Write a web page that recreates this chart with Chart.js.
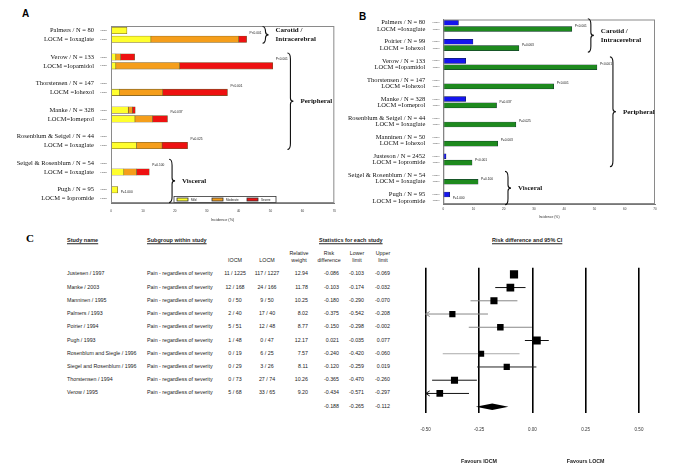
<!DOCTYPE html>
<html>
<head>
<meta charset="utf-8">
<script src="https://cdn.jsdelivr.net/npm/chart.js@4.4.1/dist/chart.umd.min.js"></script>
<style>
  body { margin: 0; background: #fff; width: 685px; height: 476px; position: relative; overflow: hidden; font-family: "Liberation Sans", sans-serif; }
  canvas { position: absolute; }
  .t { position: absolute; white-space: nowrap; font-size: 5.3px; line-height: 1; color: #222; }
  .h { font-weight: bold; text-decoration: underline; font-size: 5.5px; }
  .panel { position: absolute; font-weight: bold; font-size: 10px; line-height: 1; }
</style>
</head>
<body>
<div class="panel" style="left:22px;top:8.5px">A</div>
<div class="panel" style="left:359px;top:12px">B</div>
<div class="panel" style="left:26px;top:233px;font-family:'Liberation Serif';font-size:11px">C</div>
<canvas id="chartA" width="342" height="228" style="left:0;top:0"></canvas>
<canvas id="chartB" width="343" height="228" style="left:342px;top:0"></canvas>
<canvas id="chartC" width="285" height="216" style="left:400px;top:260px"></canvas>
<script>
// ---- Panel A: pain severity (% of patients), each pair = [HOCM, LOCM]
const studiesA = ["Palmers / N = 80", "Verow / N = 133", "Thorstensen / N = 147", "Manke / N = 328",
  "Rosenblum & Seigel / N = 44", "Seigel & Rosenblum / N = 54", "Pugh / N = 95"];
const agentsA = ["LOCM = Ioxaglate", "LOCM =Iopamidol", "LOCM =Iohexol", "LOCM=Iomeprol",
  "LOCM = Ioxaglate", "LOCM = Ioxaglate", "LOCM = Iopromide"];
const mildA = [[5, 12.5], [1.5, 1.5], [0, 2.7], [5.4, 7.5], [0, 8], [0, 4], [2.1, 0]];
const moderateA = [[0, 27.5], [1.5, 20], [0, 13.5], [1.3, 5.5], [0, 8], [0, 4], [0, 0]];
const severeA = [[0, 2.5], [4.4, 29.2], [0, 20.3], [0.9, 4.7], [0, 8], [0, 4], [0, 0]];
const pValuesA = ["P<0.001", "P<0.001", "P<0.001", "P=0.037", "P=0.025", "P=0.100", "P=1.000"];

// ---- Panel B: any pain (% of patients)
const studiesB = ["Palmers / N = 80", "Poirier / N = 99", "Verow / N = 133", "Thorstensen / N = 147",
  "Manke / N = 328", "Rosenblum & Seigel / N = 44", "Manninen / N = 50", "Justeson / N = 2452",
  "Seigel & Rosenblum / N = 54", "Pugh / N = 95"];
const agentsB = ["LOCM =Ioxaglate", "LOCM = Iohexol", "LOCM =Iopamidol", "LOCM =Iohexol", "LOCM =Iomeprol",
  "LOCM = Ioxaglate", "LOCM = Iohexol", "LOCM = Iopromide", "LOCM = Ioxaglate", "LOCM = Iopromide"];
const hocmB = [5, 9.8, 7.4, 0, 7.4, 0, 0, 0.9, 0, 2.1];
const locmB = [42.5, 25, 50.8, 36.5, 17.6, 24, 18, 9.5, 11.5, 0];
const pValuesB = ["P<0.001", "P=0.063", "P<0.001", "P<0.001", "P=0.037", "P=0.025", "P=0.003",
  "P<0.001", "P=0.100", "P=1.000"];

// ---- Panel C: meta-analysis table + forest plot
const studyC = ["Justesen / 1997", "Manke / 2003", "Manninen / 1995", "Palmers / 1993", "Poirier / 1994",
  "Pugh / 1993", "Rosenblum and Siegle / 1996", "Siegel and Rosenblum / 1996", "Thorstensen / 1994", "Verow / 1995"];
const iocmEvents = ["11 / 1225", "12 / 168", "0 / 50", "2 / 40", "5 / 51", "1 / 48", "0 / 19", "0 / 29", "0 / 73", "5 / 68"];
const locmEvents = ["117 / 1227", "24 / 166", "9 / 50", "17 / 40", "12 / 48", "0 / 47", "6 / 25", "3 / 26", "27 / 74", "33 / 65"];
const weights = [12.94, 11.78, 10.25, 8.02, 8.77, 12.17, 7.57, 8.11, 10.26, 9.20];
const riskDiff = [-0.086, -0.103, -0.180, -0.375, -0.150, 0.021, -0.240, -0.120, -0.365, -0.434];
const lowerLimit = [-0.103, -0.174, -0.290, -0.542, -0.298, -0.035, -0.420, -0.259, -0.470, -0.571];
const upperLimit = [-0.069, -0.032, -0.070, -0.208, -0.002, 0.077, -0.060, 0.019, -0.260, -0.297];
const summary = [-0.188, -0.265, -0.112]; // estimate, lower, upper
const whiskerColors = ["#111", "#111", "#888", "#888", "#888", "#111", "#aaa", "#222", "#111", "#111"];

// rows: HOCM, LOCM, blank spacer between studies
function rowLabels(n) {
  const out = [];
  for (let i = 0; i < n; i++) { if (i) out.push(""); out.push("HOCM", "LOCM"); }
  return out;
}
function seriesRows(pairs) {
  const out = [];
  pairs.forEach((p, i) => { if (i) out.push(null); out.push(p[0] || null, p[1] || null); });
  return out;
}

function drawBrace(ctx, x, y1, y2, w) {
  const ym = (y1 + y2) / 2, h = w / 2;
  ctx.beginPath();
  ctx.moveTo(x, y1);
  ctx.quadraticCurveTo(x + h, y1, x + h, y1 + w);
  ctx.lineTo(x + h, ym - h);
  ctx.quadraticCurveTo(x + h, ym, x + w, ym);
  ctx.quadraticCurveTo(x + h, ym, x + h, ym + h);
  ctx.lineTo(x + h, y2 - w);
  ctx.quadraticCurveTo(x + h, y2, x, y2);
  ctx.stroke();
}

function decorPlugin(cfg) {
  return {
    id: "decor",
    afterDraw(chart) {
      const { ctx, chartArea: a, scales: { x, y } } = chart;
      ctx.save();
      ctx.strokeStyle = "#8a8a8a";
      ctx.lineWidth = 1;
      ctx.strokeRect(a.left + 0.5, a.top + 0.5, a.right - a.left - 1, a.bottom - a.top - 1);

      // study names
      ctx.fillStyle = "#111";
      ctx.font = '6.5px "Liberation Serif"';
      ctx.textAlign = "right";
      ctx.textBaseline = "middle";
      cfg.studies.forEach((s, i) => {
        ctx.fillText(s, a.left - cfg.nameGap, y.getPixelForValue(i * 3));
        ctx.fillText(cfg.agents[i], a.left - cfg.nameGap, y.getPixelForValue(i * 3 + 1));
      });

      // p values
      ctx.font = '3.2px "Liberation Sans"';
      ctx.textAlign = "left";
      cfg.pValues.forEach((p, i) => {
        const end = Math.max(cfg.totals[i][0], cfg.totals[i][1]);
        ctx.fillText(p, x.getPixelForValue(end) + 3, y.getPixelForValue(i * 3 + 1) - cfg.pLift);
      });

      // group braces
      ctx.strokeStyle = "#111";
      ctx.lineWidth = 1.1;
      cfg.groups.forEach(g => {
        const bx = x.getPixelForValue(g.at);
        const y1 = y.getPixelForValue(g.from * 3) - 4;
        const y2 = y.getPixelForValue(g.to * 3 + 1) + 4;
        drawBrace(ctx, bx, y1, y2, 6);
        ctx.font = 'bold 7px "Liberation Serif"';
        const ym = (y1 + y2) / 2 - (g.label.length - 1) * 4.5;
        g.label.forEach((t, k) => ctx.fillText(t, bx + 13, ym + k * 9));
      });

      // legend box (panel A)
      if (cfg.legend) {
        const lx = a.left + 63, ly = a.bottom - 6.5, lw = 102, lh = 6;
        ctx.fillStyle = "#fff";
        ctx.fillRect(lx, ly, lw, lh);
        ctx.strokeStyle = "#333";
        ctx.lineWidth = 0.8;
        ctx.strokeRect(lx, ly, lw, lh);
        ctx.font = '3px "Liberation Sans"';
        chart.data.datasets.forEach((ds, k) => {
          const sx = lx + 3 + k * 35;
          ctx.fillStyle = ds.backgroundColor;
          ctx.fillRect(sx, ly + 1.5, 11, 3);
          ctx.strokeRect(sx, ly + 1.5, 11, 3);
          ctx.fillStyle = "#222";
          ctx.fillText(ds.label, sx + 14, ly + 3.2);
        });
      }
      ctx.restore();
    }
  };
}

function axisOptions(cfg) {
  return {
    y: {
      stacked: true,
      afterFit: s => { s.width = cfg.yWidth; },
      grid: { display: false, drawTicks: false },
      border: { color: "#777" },
      ticks: { autoSkip: false, font: { size: 2.3 }, color: "#444", padding: 4 }
    },
    x: {
      stacked: true, min: 0, max: 70,
      afterFit: s => { s.height = cfg.xHeight; },
      grid: { display: false, drawTicks: false },
      border: { color: "#777" },
      ticks: { stepSize: 10, font: { size: 3 }, color: "#333", padding: cfg.tickPad },
      title: { display: true, text: "Incidence (%)", font: { size: cfg.titleSize }, color: "#333", padding: 0 }
    }
  };
}

// ---- Chart A
new Chart(document.getElementById("chartA"), {
  type: "bar",
  data: {
    labels: rowLabels(studiesA.length),
    datasets: [
      { label: "Mild", data: seriesRows(mildA), backgroundColor: "#ffff2e" },
      { label: "Moderate", data: seriesRows(moderateA), backgroundColor: "#f59e1b" },
      { label: "Severe", data: seriesRows(severeA), backgroundColor: "#ee1111" }
    ]
  },
  options: {
    indexAxis: "y", responsive: false, animation: false, devicePixelRatio: 1,
    datasets: { bar: { barThickness: 6.5, borderWidth: 0.6, borderColor: "#6b5a2a", borderSkipped: false } },
    layout: { padding: { top: 26, right: 5, bottom: 6, left: 0 } },
    plugins: { legend: { display: false }, tooltip: { enabled: false } },
    scales: axisOptions({ yWidth: 111, xHeight: 19, tickPad: 6, titleSize: 3.8 })
  },
  plugins: [decorPlugin({
    studies: studiesA, agents: agentsA, pValues: pValuesA, nameGap: 17, pLift: 6.5, legend: true,
    totals: mildA.map((m, i) => [0, 1].map(k => m[k] + moderateA[i][k] + severeA[i][k])),
    groups: [
      { label: ["Carotid /", "Intracerebral"], from: 0, to: 0, at: 47.5 },
      { label: ["Peripheral"], from: 1, to: 4, at: 55.3 },
      { label: ["Visceral"], from: 5, to: 6, at: 18.2 }
    ]
  })]
});

// ---- Chart B
new Chart(document.getElementById("chartB"), {
  type: "bar",
  data: {
    labels: rowLabels(studiesB.length),
    datasets: [
      { label: "HOCM", data: seriesRows(hocmB.map(v => [v, 0])), backgroundColor: "#1515ee" },
      { label: "LOCM", data: seriesRows(locmB.map(v => [0, v])), backgroundColor: "#1e8a1e" }
    ]
  },
  options: {
    indexAxis: "y", responsive: false, animation: false, devicePixelRatio: 1,
    datasets: { bar: { barThickness: 5, borderWidth: 0.5, borderColor: "#123", borderSkipped: false } },
    layout: { padding: { top: 19.5, right: 30, bottom: 9, left: 0 } },
    plugins: { legend: { display: false }, tooltip: { enabled: false } },
    scales: axisOptions({ yWidth: 101.3, xHeight: 15, tickPad: 3, titleSize: 3.4 })
  },
  plugins: [decorPlugin({
    studies: studiesB, agents: agentsB, pValues: pValuesB, nameGap: 18, pLift: 3,
    totals: hocmB.map((h, i) => [h, locmB[i]]),
    groups: [
      { label: ["Carotid /", "Intracerebral"], from: 0, to: 1, at: 47.8 },
      { label: ["Peripheral"], from: 2, to: 7, at: 55.1 },
      { label: ["Visceral"], from: 8, to: 9, at: 20.4 }
    ]
  })]
});

// ---- Chart C (forest plot)
const forestPlugin = {
  id: "forest",
  beforeDatasetsDraw(chart) {
    const { ctx, chartArea: a, scales: { x, y } } = chart;
    ctx.save();
    lowerLimit.forEach((lo, i) => {
      const yy = y.getPixelForValue(i);
      const clipped = lo < x.min;
      const x0 = x.getPixelForValue(Math.max(lo, x.min));
      const x1 = x.getPixelForValue(upperLimit[i]);
      ctx.strokeStyle = whiskerColors[i];
      ctx.lineWidth = 1;
      ctx.beginPath();
      ctx.moveTo(x0, yy);
      ctx.lineTo(x1, yy);
      if (clipped) {
        ctx.moveTo(x0 + 4, yy - 2.5);
        ctx.lineTo(x0, yy);
        ctx.lineTo(x0 + 4, yy + 2.5);
      }
      ctx.stroke();
    });
    const ys = y.getPixelForValue(riskDiff.length);
    ctx.fillStyle = "#000";
    ctx.beginPath();
    ctx.moveTo(x.getPixelForValue(summary[1]), ys);
    ctx.lineTo(x.getPixelForValue(summary[0]), ys - 3.2);
    ctx.lineTo(x.getPixelForValue(summary[2]), ys);
    ctx.lineTo(x.getPixelForValue(summary[0]), ys + 3.2);
    ctx.closePath();
    ctx.fill();
    ctx.font = 'bold 5.3px "Liberation Sans"';
    ctx.textAlign = "center";
    ctx.textBaseline = "middle";
    ctx.fillStyle = "#222";
    ctx.fillText("Favours IOCM", x.getPixelForValue(-0.25), a.bottom + 48.7);
    ctx.fillText("Favours LOCM", x.getPixelForValue(0.25), a.bottom + 48.7);
    ctx.restore();
  }
};

const forest = new Chart(document.getElementById("chartC"), {
  type: "scatter",
  data: {
    datasets: [{
      data: riskDiff.map((v, i) => ({ x: v, y: i })),
      pointStyle: "rect",
      pointRadius: weights.map(w => (3 + w * 0.4) / Math.SQRT2),
      backgroundColor: "#000",
      borderWidth: 0
    }]
  },
  options: {
    responsive: false, animation: false, devicePixelRatio: 1,
    layout: { padding: { left: 25.7, right: 46, top: 7.7, bottom: 32.7 } },
    plugins: { legend: { display: false }, tooltip: { enabled: false } },
    scales: {
      x: {
        min: -0.5, max: 0.5,
        afterFit: s => { s.height = 30; },
        ticks: { stepSize: 0.25, callback: v => v.toFixed(2), font: { size: 4.5 }, color: "#333", padding: 14 },
        grid: { color: "#000", lineWidth: 1.6, drawTicks: false },
        border: { display: false }
      },
      y: { display: false, min: -0.5, max: 10.5, reverse: true }
    }
  },
  plugins: [forestPlugin]
});

// ---- table text for panel C
function put(text, x, y, align, cls) {
  const d = document.createElement("div");
  d.className = "t" + (cls ? " " + cls : "");
  d.textContent = text;
  const tx = align === "right" ? "-100%" : align === "center" ? "-50%" : "0";
  d.style.left = x + "px";
  d.style.top = y + "px";
  d.style.transform = `translate(${tx},-50%)`;
  document.body.appendChild(d);
}

put("Study name", 67, 241, "left", "h");
put("Subgroup within study", 147, 241, "left", "h");
put("Statistics for each study", 319, 241, "left", "h");
put("Risk difference and 95% CI", 492, 241, "left", "h");
put("IOCM", 235, 261, "center");
put("LOCM", 267, 261, "center");
[["Relative", "weight", 299], ["Risk", "difference", 329], ["Lower", "limit", 357], ["Upper", "limit", 383]]
  .forEach(([a, b, x]) => { put(a, x, 254, "center"); put(b, x, 261, "center"); });

const fy = forest.scales.y;
studyC.forEach((s, i) => {
  const y = 260 + fy.getPixelForValue(i);
  put(s, 67, y, "left");
  put("Pain - regardless of severity", 147, y, "left");
  put(iocmEvents[i], 235, y, "center");
  put(locmEvents[i], 267, y, "center");
  put(weights[i].toFixed(2), 308, y, "right");
  put(riskDiff[i].toFixed(3), 339, y, "right");
  put(lowerLimit[i].toFixed(3), 364, y, "right");
  put(upperLimit[i].toFixed(3), 390, y, "right");
});
const sy = 260 + fy.getPixelForValue(studyC.length);
put(summary[0].toFixed(3), 339, sy, "right");
put(summary[1].toFixed(3), 364, sy, "right");
put(summary[2].toFixed(3), 390, sy, "right");
</script>
</body>
</html>
